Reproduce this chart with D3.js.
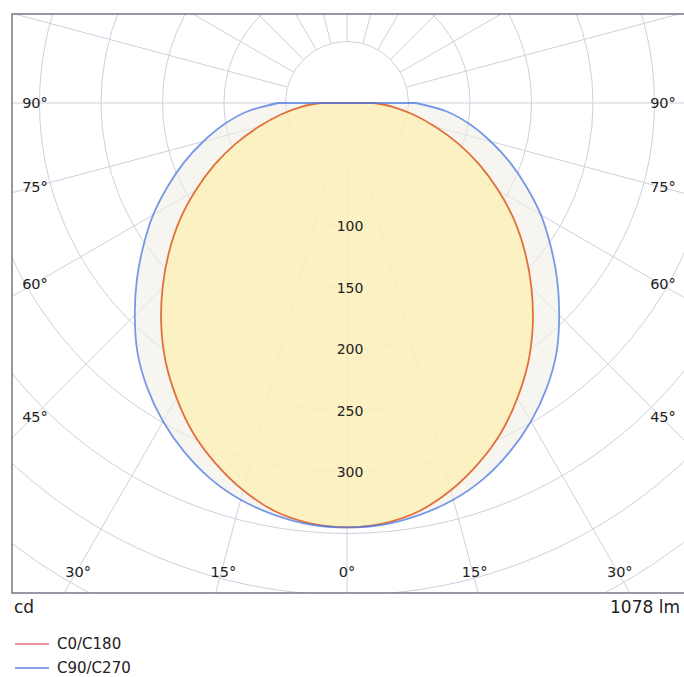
<!DOCTYPE html>
<html>
<head>
<meta charset="utf-8">
<script src="https://cdn.jsdelivr.net/npm/d3@7"></script>
<style>
  html, body { margin: 0; padding: 0; background: #ffffff; }
  svg { display: block; font-family: "DejaVu Sans", Verdana, sans-serif; }
</style>
</head>
<body>
<svg id="chart" width="684" height="677"></svg>
<script>
// ---- data ----
const gammaAngles = [0, 5, 10, 15, 20, 25, 30, 35, 40, 45, 50, 55, 60, 65, 70, 75, 80, 85, 90];
const c0c180 = [345, 343, 337, 326, 312, 296, 277, 257, 235, 212, 189, 166, 142, 119, 96, 74, 55, 38, 22];
const c90c270 = [345, 344, 340, 334, 325, 313, 299, 283, 265, 244, 223, 202, 182, 161, 141, 121, 102, 82, 56];
const seriesNames = ["C0/C180", "C90/C270"];
const radialTicks = [100, 150, 200, 250, 300];
const gridCircles = [50, 100, 150, 200, 250, 300, 350, 400, 450, 500, 550];
const angleTicks = [0, 15, 30, 45, 60, 75, 90];
const unitLabel = "cd";
const fluxLabel = "1078 lm";

// ---- layout ----
const svg = d3.select("#chart");
const frame = { x: 12, y: 14, w: 678, h: 579 };
const cx = 347, cy = 103;
const r = d3.scaleLinear().domain([0, 50]).range([0, 61.5]);

const defs = svg.append("defs");
defs.append("clipPath").attr("id", "clip")
  .append("rect").attr("x", frame.x).attr("y", frame.y).attr("width", frame.w).attr("height", frame.h);

const plot = svg.append("g").attr("clip-path", "url(#clip)");
const g = plot.append("g").attr("transform", `translate(${cx},${cy})`);

const gridColor = "#cfd0dd";
// grid circles
g.selectAll("circle.grid").data(gridCircles).join("circle")
  .attr("class", "grid").attr("r", d => r(d))
  .attr("fill", "none").attr("stroke", gridColor).attr("stroke-width", 1);
// radial lines every 15 deg, starting at 50 cd
const spokes = d3.range(0, 360, 15);
g.selectAll("line.spoke").data(spokes).join("line")
  .attr("class", "spoke")
  .attr("x1", d => r(50) * Math.sin(d * Math.PI / 180))
  .attr("y1", d => r(50) * Math.cos(d * Math.PI / 180))
  .attr("x2", d => r(700) * Math.sin(d * Math.PI / 180))
  .attr("y2", d => r(700) * Math.cos(d * Math.PI / 180))
  .attr("stroke", gridColor).attr("stroke-width", 1);

// build curve points: left side (90 -> 0), then right side (0 -> 90)
function curvePoints(vals) {
  const pts = [];
  for (let i = gammaAngles.length - 1; i >= 0; i--) {
    pts.push({ a: Math.PI + gammaAngles[i] * Math.PI / 180, v: vals[i] });
  }
  for (let i = 1; i < gammaAngles.length; i++) {
    pts.push({ a: Math.PI - gammaAngles[i] * Math.PI / 180, v: vals[i] });
  }
  return pts;
}
const radial = d3.lineRadial().angle(d => d.a).radius(d => r(d.v)).curve(d3.curveCatmullRom.alpha(0.5));
const pathBlue = radial(curvePoints(c90c270)) + "Z";
const pathRed = radial(curvePoints(c0c180)) + "Z";

// fills
g.append("path").attr("d", pathBlue).attr("fill", "#f2efe4").attr("fill-opacity", 0.6);
g.append("path").attr("d", pathRed).attr("fill", "#fcf0b2").attr("fill-opacity", 0.72);

const colors = ["#e2703c", "#4a78e2"];
// lines
g.append("path").attr("d", pathRed).attr("fill", "none")
  .attr("stroke", colors[0]).attr("stroke-width", 1.8);
g.append("path").attr("d", pathBlue).attr("fill", "none")
  .attr("stroke", colors[1]).attr("stroke-width", 1.8).attr("stroke-opacity", 0.75);

// radial value labels
g.selectAll("text.rlab").data(radialTicks).join("text")
  .attr("class", "rlab")
  .attr("x", 3).attr("y", d => r(d))
  .attr("text-anchor", "middle").attr("dominant-baseline", "central")
  .attr("font-size", 14).attr("fill", "#222")
  .text(d => d);

// angle labels at intersection of spokes with inset rectangle
const inset = { left: 33, right: 661, bottom: 572 };
function labelPos(theta, side) {
  const t = theta * Math.PI / 180;
  const s = Math.sin(t), c = Math.cos(t);
  const tSide = s > 1e-6 ? (side < 0 ? (cx - inset.left) : (inset.right - cx)) / s : Infinity;
  const tBot = c > 1e-6 ? (inset.bottom - cy) / c : Infinity;
  const tt = Math.min(tSide, tBot);
  return [cx + side * tt * s, cy + tt * c];
}
const angleLabels = [];
angleTicks.forEach(a => {
  if (a === 0) angleLabels.push({ a, side: 1 });
  else { angleLabels.push({ a, side: -1 }); angleLabels.push({ a, side: 1 }); }
});
svg.selectAll("text.alab").data(angleLabels).join("text")
  .attr("class", "alab")
  .attr("x", d => labelPos(d.a, d.side)[0] + (d.a === 0 ? 0 : 2))
  .attr("y", d => labelPos(d.a, d.side)[1])
  .attr("text-anchor", "middle").attr("dominant-baseline", "central")
  .attr("font-size", 14.5).attr("fill", "#222")
  .text(d => d.a + "°");

// frame
svg.append("rect").attr("x", frame.x).attr("y", frame.y).attr("width", frame.w).attr("height", frame.h)
  .attr("fill", "none").attr("stroke", "#7e7f8c").attr("stroke-width", 1.6);

// bottom texts
svg.append("text").attr("x", 14).attr("y", 613).attr("font-size", 17).attr("fill", "#222").text(unitLabel);
svg.append("text").attr("x", 680).attr("y", 613).attr("text-anchor", "end")
  .attr("font-size", 17).attr("fill", "#222").text(fluxLabel);

// legend
const legendColors = ["#ec6a84", "#5a82e6"];
const leg = svg.selectAll("g.leg").data(seriesNames).join("g")
  .attr("class", "leg").attr("transform", (d, i) => `translate(15,${644 + i * 24})`);
leg.append("line").attr("x1", 0).attr("x2", 34).attr("y1", 0).attr("y2", 0)
  .attr("stroke", (d, i) => legendColors[i]).attr("stroke-width", 1.5);
leg.append("text").attr("x", 42).attr("y", 0).attr("dominant-baseline", "central")
  .attr("font-size", 15).attr("fill", "#222").text(d => d);
</script>
</body>
</html>
